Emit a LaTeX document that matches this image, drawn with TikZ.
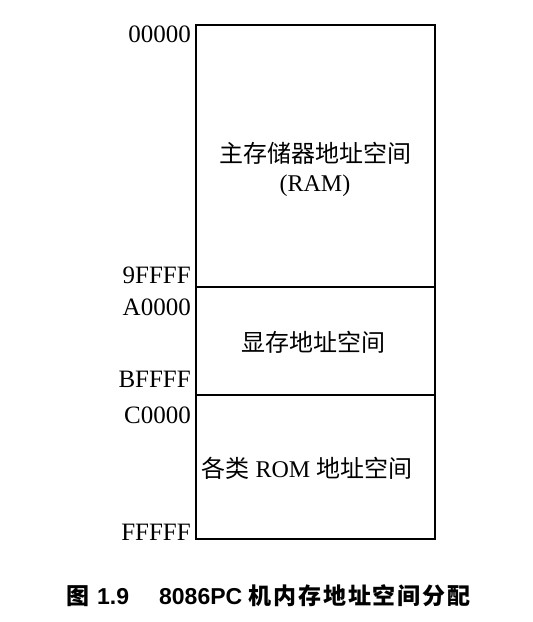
\documentclass[tikz,border=0pt]{standalone}
\usepackage{fontspec}
\setmainfont{Liberation Serif}
\newfontfamily\cjk{Noto Sans CJK SC}
\newfontfamily\capsans{Liberation Sans}
\tikzset{
	addr/.style={anchor=base east, inner sep=0pt, font=\fontsize{25}{30}\selectfont},
	area/.style={align=center, inner sep=0pt, font=\fontsize{24}{29}\selectfont},
	seg/.style={line width=1.6pt},
}
\begin{document}
\begin{tikzpicture}[x=1pt,y=-1pt]
	\useasboundingbox (0,0) rectangle (533,622);
	% the three address ranges
	\draw [seg] (196,25) rectangle (435,287);
	\draw [seg] (196,287) rectangle (435,395);
	\draw [seg] (196,395) rectangle (435,539);
	\node [area] (ram) at (315,169) {{\cjk 主存储器地址空间}\\(RAM)};
	\node [area] (vram) at (313,342) {{\cjk 显存地址空间}};
	\node [area] (rom) at (307,468) {{\cjk 各类} ROM {\cjk 地址空间}};
	% addresses
	\node [addr] (ramtop) at (191,42) {00000};
	\node [addr] (ramend) at (191,283) {9FFFF};
	\node [addr] (vramtop) at (191,315) {A0000};
	\node [addr] (vramend) at (191,387) {BFFFF};
	\node [addr] (romtop) at (191,423) {C0000};
	\node [addr] (romend) at (191,540) {FFFFF};
	% caption
	\node [anchor=base west, inner sep=0pt, font=\capsans\bfseries\fontsize{23}{28}\selectfont] (caption) at (66,604) {{\cjk\bfseries 图}\hskip8pt 1.9\hskip30pt 8086PC {\cjk\bfseries\addfontfeature{LetterSpace=8}机内存地址空间分配}};
\end{tikzpicture}
\end{document}
